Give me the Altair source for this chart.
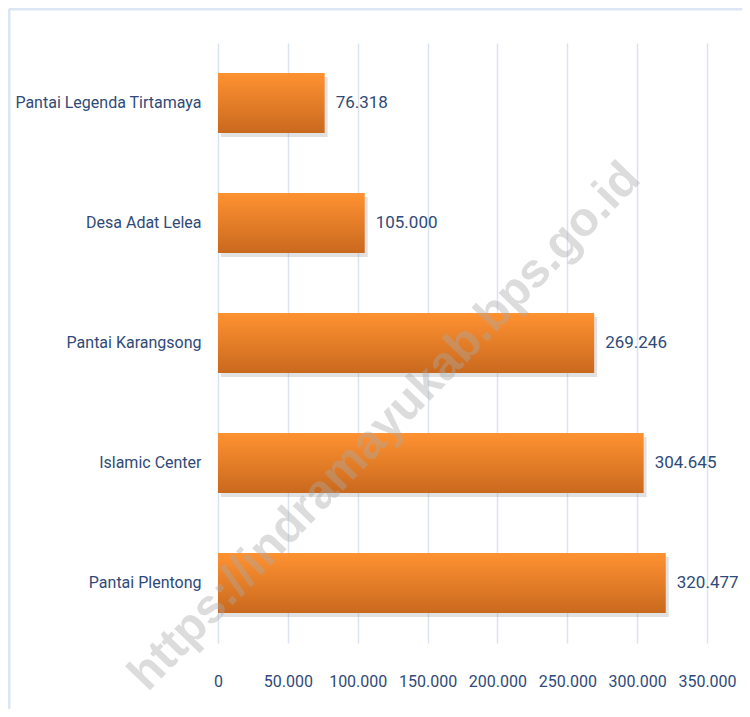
import altair as alt
import pandas as pd

categories = ["Pantai Legenda Tirtamaya", "Desa Adat Lelea", "Pantai Karangsong",
              "Islamic Center", "Pantai Plentong"]
visitors = [76318, 105000, 269246, 304645, 320477]
x_ticks = [0, 50000, 100000, 150000, 200000, 250000, 300000, 350000]
watermark = "https://indramayukab.bps.go.id"

df = pd.DataFrame({
    "cat": categories,
    "val": visitors,
    "label": [f"{v:,}".replace(",", ".") for v in visitors],
})

FONT = "Roboto, Liberation Sans, sans-serif"
TXT = "#2F4A78"
FS = 16

y_enc = alt.Y("cat:N", sort=categories, title=None,
              scale=alt.Scale(paddingInner=0.5, paddingOuter=0.25),
              axis=alt.Axis(labelFontSize=FS, labelFont=FONT, labelColor=TXT,
                            labelPadding=17, labelLimit=300, domain=False,
                            ticks=False, grid=False))
x_enc = alt.X("val:Q", title=None,
              scale=alt.Scale(domain=[0, 350000], nice=False, zero=True),
              axis=alt.Axis(values=x_ticks, labelFontSize=FS, labelFont=FONT,
                            labelColor=TXT, labelPadding=30, domain=False,
                            ticks=False, grid=True, gridColor="#D9E3F1",
                            gridWidth=1.5, labelOverlap=False, labelFlush=False,
                            labelExpr="replace(format(datum.value, ','), /,/g, '.')"))

base = alt.Chart(df)

shadow = base.mark_bar(color="#9a9a9a", opacity=0.3, xOffset=3, yOffset=4).encode(
    x=x_enc, y=y_enc)

bars = base.mark_bar(
    color={"gradient": "linear", "x1": 0, "y1": 0, "x2": 0, "y2": 1,
           "stops": [{"offset": 0, "color": "#FF9231"},
                     {"offset": 1, "color": "#C9691E"}]}
).encode(x=x_enc, y=y_enc)

labels = base.mark_text(align="left", baseline="middle", dx=11, fontSize=FS + 1,
                        font=FONT, color=TXT).encode(
    x="val:Q", y=alt.Y("cat:N", sort=categories), text="label:N")

wm = alt.Chart(pd.DataFrame({"t": [watermark]})).mark_text(
    angle=314, fontSize=48, font="Liberation Sans, Arial, sans-serif",
    fontWeight="bold", color="#AAAAAA", opacity=0.4,
    align="center", baseline="middle").encode(
    x=alt.value(167), y=alt.value(384), text="t:N")

border_left = alt.Chart(pd.DataFrame({"a": [0]})).mark_rule(
    color="#DCE5F4", strokeWidth=3).encode(
    x=alt.value(-209), y=alt.value(-34), y2=alt.value(700))
border_top = alt.Chart(pd.DataFrame({"a": [0]})).mark_rule(
    color="#DCE5F4", strokeWidth=3).encode(
    x=alt.value(-209), x2=alt.value(530), y=alt.value(-34))

chart = alt.layer(border_left, border_top, shadow, bars, labels, wm).properties(
    width=489, height=600,
    padding={"left": 210, "top": 35, "right": 35, "bottom": 66},
    autosize=alt.AutoSizeParams(type="none"),
    background="white",
).configure_view(stroke="transparent", strokeWidth=0)

chart.save("out.html", embed_options={"renderer": "svg", "actions": False})
